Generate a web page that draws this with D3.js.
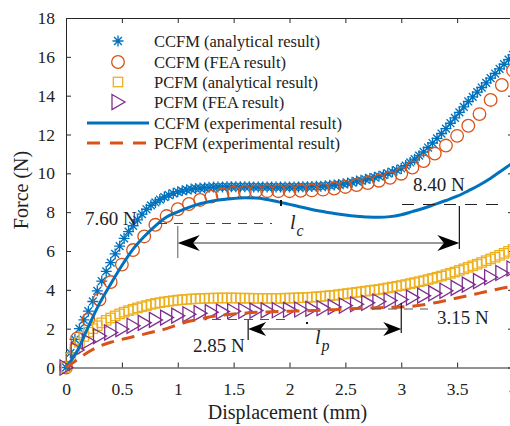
<!DOCTYPE html>
<html>
<head>
<meta charset="utf-8">
<script src="https://cdn.jsdelivr.net/npm/d3@7"></script>
<style>
  body { margin: 0; background: #fff; }
  svg { display: block; font-family: "Liberation Serif", "Times New Roman", serif; }
</style>
</head>
<body>
<svg id="chart" width="510" height="426"></svg>
<script>
// CCFM analytical (asterisks), sampled every 0.04 mm
var ccfmAnalytical = [
  0, 0.75, 1.45, 2.0, 2.45, 2.9, 3.4, 3.95, 4.45, 4.95,
  5.4, 5.85, 6.25, 6.65, 7.0, 7.3, 7.6, 7.9, 8.15, 8.35,
  8.5, 8.65, 8.78, 8.88, 8.97, 9.05, 9.1, 9.15, 9.19, 9.22,
  9.24, 9.26, 9.28, 9.29, 9.3, 9.3, 9.31, 9.31, 9.31, 9.31,
  9.31, 9.31, 9.3, 9.3, 9.3, 9.3, 9.3, 9.3, 9.3, 9.3,
  9.3, 9.3, 9.3, 9.31, 9.31, 9.32, 9.33, 9.34, 9.36, 9.38,
  9.4, 9.43, 9.46, 9.5, 9.54, 9.6, 9.64, 9.69, 9.74, 9.8,
  9.85, 9.92, 10.0, 10.08, 10.16, 10.25, 10.4, 10.56, 10.73, 10.91,
  11.1, 11.33, 11.56, 11.8, 12.05, 12.3, 12.58, 12.86, 13.14, 13.42,
  13.7, 13.94, 14.18, 14.42, 14.66, 14.9, 15.14, 15.38, 15.62, 15.86,
  16.1
];
// PCFM analytical (squares), sampled every 0.04 mm
var pcfmAnalytical = [
  0, 0.5, 0.95, 1.3, 1.6, 1.82, 2.0, 2.15, 2.3, 2.43,
  2.55, 2.66, 2.76, 2.85, 2.93, 3.0, 3.07, 3.13, 3.19, 3.25,
  3.3, 3.34, 3.38, 3.41, 3.44, 3.47, 3.49, 3.51, 3.53, 3.54,
  3.55, 3.56, 3.57, 3.57, 3.58, 3.58, 3.58, 3.58, 3.58, 3.57,
  3.57, 3.57, 3.56, 3.56, 3.56, 3.56, 3.56, 3.56, 3.56, 3.57,
  3.57, 3.58, 3.59, 3.6, 3.61, 3.62, 3.64, 3.66, 3.68, 3.7,
  3.72, 3.75, 3.78, 3.81, 3.84, 3.87, 3.9, 3.93, 3.96, 3.99,
  4.02, 4.06, 4.1, 4.14, 4.18, 4.22, 4.27, 4.32, 4.37, 4.42,
  4.47, 4.53, 4.59, 4.65, 4.71, 4.78, 4.85, 4.92, 5.0, 5.08,
  5.16, 5.24, 5.32, 5.41, 5.5, 5.59, 5.68, 5.78, 5.88, 5.98,
  6.08
];
// FEA and experimental curves, sampled every 0.1 mm
var ccfmFEA = [
  0, 1.5, 2.47, 3.5, 4.4, 5.3, 6.05, 6.75, 7.35, 7.8,
  8.15, 8.42, 8.63, 8.8, 8.92, 9.0, 9.05, 9.07, 9.08, 9.08,
  9.08, 9.1, 9.12, 9.16, 9.22, 9.3, 9.4, 9.5, 9.62, 9.77,
  9.98, 10.3, 10.63, 11.02, 11.43, 11.93, 12.45, 13.05, 13.78, 14.55,
  15.3
];
var pcfmFEA = [
  0, 0.9, 1.35, 1.62, 1.8, 1.98, 2.15, 2.3, 2.45, 2.57,
  2.67, 2.74, 2.8, 2.85, 2.88, 2.9, 2.92, 2.93, 2.94, 2.95,
  2.97, 2.99, 3.02, 3.06, 3.12, 3.19, 3.26, 3.33, 3.4, 3.45,
  3.5, 3.6, 3.7, 3.82, 3.95, 4.1, 4.27, 4.45, 4.65, 4.87,
  5.1
];
var ccfmExp = [
  0, 0.85, 2.1, 3.3, 4.3, 5.25, 6.1, 6.75, 7.3, 7.75,
  8.02, 8.25, 8.43, 8.56, 8.65, 8.71, 8.74, 8.73, 8.65, 8.53,
  8.4, 8.27, 8.14, 8.03, 7.93, 7.85, 7.79, 7.75, 7.74, 7.77,
  7.87, 8.03, 8.2, 8.4, 8.6, 8.82, 9.1, 9.4, 9.75, 10.15,
  10.55
];
var pcfmExp = [
  0, 0.4, 0.8, 1.1, 1.3, 1.45, 1.58, 1.72, 1.86, 2.0,
  2.2, 2.38, 2.5, 2.62, 2.7, 2.76, 2.8, 2.84, 2.86, 2.88,
  2.9, 2.91, 2.93, 2.95, 2.98, 3.01, 3.04, 3.06, 3.08, 3.1,
  3.12, 3.16, 3.23, 3.33, 3.45, 3.58, 3.7, 3.83, 3.96, 4.08,
  4.18
];

var legendLabels = [
  "CCFM (analytical result)", "CCFM (FEA result)",
  "PCFM (analytical result)", "PCFM (FEA result)",
  "CCFM (experimental result)", "PCFM (experimental result)"
];
var xTicks = [0, 0.5, 1, 1.5, 2, 2.5, 3, 3.5, 4];
var yTicks = [0, 2, 4, 6, 8, 10, 12, 14, 16, 18];

var blue = "#0072BD", orange = "#D95319", yellow = "#EDB120", purple = "#7E2F8E";

var svg = d3.select("#chart");
var x = d3.scaleLinear().domain([0, 4]).range([66, 513]);
var y = d3.scaleLinear().domain([0, 18]).range([367.5, 18]);

function pairs(vals, step) {
  return vals.map(function(v, i) { return [i * step, v]; });
}

// axes (box, ticks pointing inward)
var axisColor = "#262626";
function styleAxis(g) {
  g.select(".domain").attr("stroke", axisColor).attr("stroke-width", 1);
  g.selectAll(".tick line").attr("stroke", axisColor);
  g.selectAll("text").attr("fill", "#222").style("font-family", "Liberation Serif").style("font-size", "17.5px");
}
svg.append("g").attr("transform", "translate(0," + y(0) + ")")
  .call(d3.axisBottom(x).tickValues(xTicks).tickSize(-5).tickSizeOuter(0).tickPadding(15)
    .tickFormat(function(d) { return d; }))
  .call(styleAxis);
svg.append("g").attr("transform", "translate(" + x(0) + ",0)")
  .call(d3.axisLeft(y).tickValues(yTicks).tickSize(-5).tickSizeOuter(0).tickPadding(11))
  .call(styleAxis);
svg.append("g").attr("transform", "translate(0," + y(18) + ")")
  .call(d3.axisTop(x).tickValues(xTicks).tickSize(-5).tickSizeOuter(0).tickFormat(""))
  .call(styleAxis);
svg.append("g").attr("transform", "translate(" + x(4) + ",0)")
  .call(d3.axisRight(y).tickValues(yTicks).tickSize(-5).tickSizeOuter(0).tickFormat(""))
  .call(styleAxis);

svg.append("text").attr("x", (x(0) + x(4)) / 2 - 2).attr("y", 419)
  .attr("text-anchor", "middle").style("font-size", "20px").attr("fill", "#222")
  .text("Displacement (mm)");
svg.append("text").attr("transform", "translate(28,190) rotate(-90)")
  .attr("text-anchor", "middle").style("font-size", "20px").attr("fill", "#222")
  .text("Force (N)");

// marker shapes
var asteriskPath = "M-5.5,0H5.5M0,-5.5V5.5M-3.9,-3.9L3.9,3.9M-3.9,3.9L3.9,-3.9";
var trianglePath = "M-6,-7.5L7,0L-6,7.5Z";

function drawAsterisks(g, data) {
  g.selectAll("path.ast").data(data).enter().append("path")
    .attr("class", "ast")
    .attr("transform", function(d) { return "translate(" + x(d[0]) + "," + y(d[1]) + ")"; })
    .attr("d", asteriskPath)
    .attr("fill", "none").attr("stroke", blue).attr("stroke-width", 1.35);
}
function drawCircles(g, data) {
  g.selectAll("circle").data(data).enter().append("circle")
    .attr("cx", function(d) { return x(d[0]); })
    .attr("cy", function(d) { return y(d[1]); })
    .attr("r", 6.3)
    .attr("fill", "none").attr("stroke", orange).attr("stroke-width", 1.3);
}
function drawSquares(g, data) {
  g.selectAll("rect").data(data).enter().append("rect")
    .attr("x", function(d) { return x(d[0]) - 4.7; })
    .attr("y", function(d) { return y(d[1]) - 4.7; })
    .attr("width", 9.4).attr("height", 9.4)
    .attr("fill", "none").attr("stroke", yellow).attr("stroke-width", 1.3);
}
function drawTriangles(g, data) {
  g.selectAll("path.tri").data(data).enter().append("path")
    .attr("class", "tri")
    .attr("transform", function(d) { return "translate(" + x(d[0]) + "," + y(d[1]) + ")"; })
    .attr("d", trianglePath)
    .attr("fill", "none").attr("stroke", purple).attr("stroke-width", 1.3);
}

var line = d3.line()
  .x(function(d) { return x(d[0]); })
  .y(function(d) { return y(d[1]); })
  .curve(d3.curveMonotoneX);

var plot = svg.append("g");
drawAsterisks(plot.append("g"), pairs(ccfmAnalytical, 0.04));
drawCircles(plot.append("g"), pairs(ccfmFEA, 0.1));
drawSquares(plot.append("g"), pairs(pcfmAnalytical, 0.04));
drawTriangles(plot.append("g"), pairs(pcfmFEA, 0.1));
plot.append("path").datum(pairs(ccfmExp, 0.1)).attr("d", line)
  .attr("fill", "none").attr("stroke", blue).attr("stroke-width", 3);
plot.append("path").datum(pairs(pcfmExp, 0.1)).attr("d", line)
  .attr("fill", "none").attr("stroke", orange).attr("stroke-width", 3)
  .attr("stroke-dasharray", "13,8");

// annotations
var ann = svg.append("g");
function hline(x1, x2, yy, color, dash) {
  ann.append("line").attr("x1", x1).attr("x2", x2).attr("y1", yy).attr("y2", yy)
    .attr("stroke", color).attr("stroke-width", 1).attr("stroke-dasharray", dash || null);
}
function vline(xx, y1, y2, color) {
  ann.append("line").attr("x1", xx).attr("x2", xx).attr("y1", y1).attr("y2", y2)
    .attr("stroke", color).attr("stroke-width", 1.2);
}
function doubleArrow(x1, x2, yy, len, half) {
  ann.append("line").attr("x1", x1 + len * 0.6).attr("x2", x2 - len * 0.6)
    .attr("y1", yy).attr("y2", yy).attr("stroke", "#333").attr("stroke-width", 1);
  ann.append("path")
    .attr("d", "M" + x1 + "," + yy + "L" + (x1 + len) + "," + (yy - half) +
      "L" + (x1 + len * 0.7) + "," + yy + "L" + (x1 + len) + "," + (yy + half) + "Z")
    .attr("fill", "#000");
  ann.append("path")
    .attr("d", "M" + x2 + "," + yy + "L" + (x2 - len) + "," + (yy - half) +
      "L" + (x2 - len * 0.7) + "," + yy + "L" + (x2 - len) + "," + (yy + half) + "Z")
    .attr("fill", "#000");
}
function label(tx, ty, s) {
  ann.append("text").attr("x", tx).attr("y", ty).style("font-size", "19px")
    .attr("fill", "#222").text(s);
}
function sublabel(tx, ty, main, sub) {
  var t = ann.append("text").attr("x", tx).attr("y", ty)
    .style("font-size", "20px").style("font-style", "italic").attr("fill", "#222");
  t.append("tspan").text(main);
  t.append("tspan").attr("dx", 1).attr("dy", 7).style("font-size", "16px").text(sub);
}

// CCFM  l_c
hline(158, 272, 223.5, "#444", "9,7");
vline(x(1), 226, 258, "#777");
doubleArrow(x(1), x(3.52), 243, 22, 8);
vline(x(3.52), 206, 249, "#111");
hline(402, 500, 204.5, "#222", "12,9");
label(85, 225, "7.60 N");
label(413, 191, "8.40 N");
sublabel(290, 229, "l", "c");
ann.append("rect").attr("x", 280).attr("y", 200).attr("width", 2).attr("height", 6).attr("fill", "#111");

// PCFM  l_p
hline(212, 287, 319.5, "#555", "9,7");
vline(x(1.63), 320, 340, "#111");
doubleArrow(x(1.63), x(3.0), 329, 18, 7);
vline(x(3.0), 303, 333, "#111");
hline(372, 428, 309, "#555", "9,7");
label(193, 352, "2.85 N");
label(437, 324, "3.15 N");
sublabel(315, 344, "l", "p");
ann.append("rect").attr("x", 306).attr("y", 322).attr("width", 2).attr("height", 2).attr("fill", "#111");

// legend
var leg = svg.append("g");
var rowY = [41, 62, 82, 102, 123, 143];
legendLabels.forEach(function(s, i) {
  leg.append("text").attr("x", 154).attr("y", rowY[i] + 5.5)
    .style("font-size", "16.5px").attr("fill", "#222").text(s);
});
drawAsterisks(leg.append("g"), [[x.invert(118), y.invert(rowY[0])]]);
drawCircles(leg.append("g"), [[x.invert(118), y.invert(rowY[1])]]);
drawSquares(leg.append("g"), [[x.invert(118), y.invert(rowY[2])]]);
drawTriangles(leg.append("g"), [[x.invert(118), y.invert(rowY[3])]]);
leg.append("line").attr("x1", 87).attr("x2", 149).attr("y1", rowY[4]).attr("y2", rowY[4])
  .attr("stroke", blue).attr("stroke-width", 3);
leg.append("line").attr("x1", 87).attr("x2", 149).attr("y1", rowY[5]).attr("y2", rowY[5])
  .attr("stroke", orange).attr("stroke-width", 3).attr("stroke-dasharray", "13,10");
</script>
</body>
</html>
